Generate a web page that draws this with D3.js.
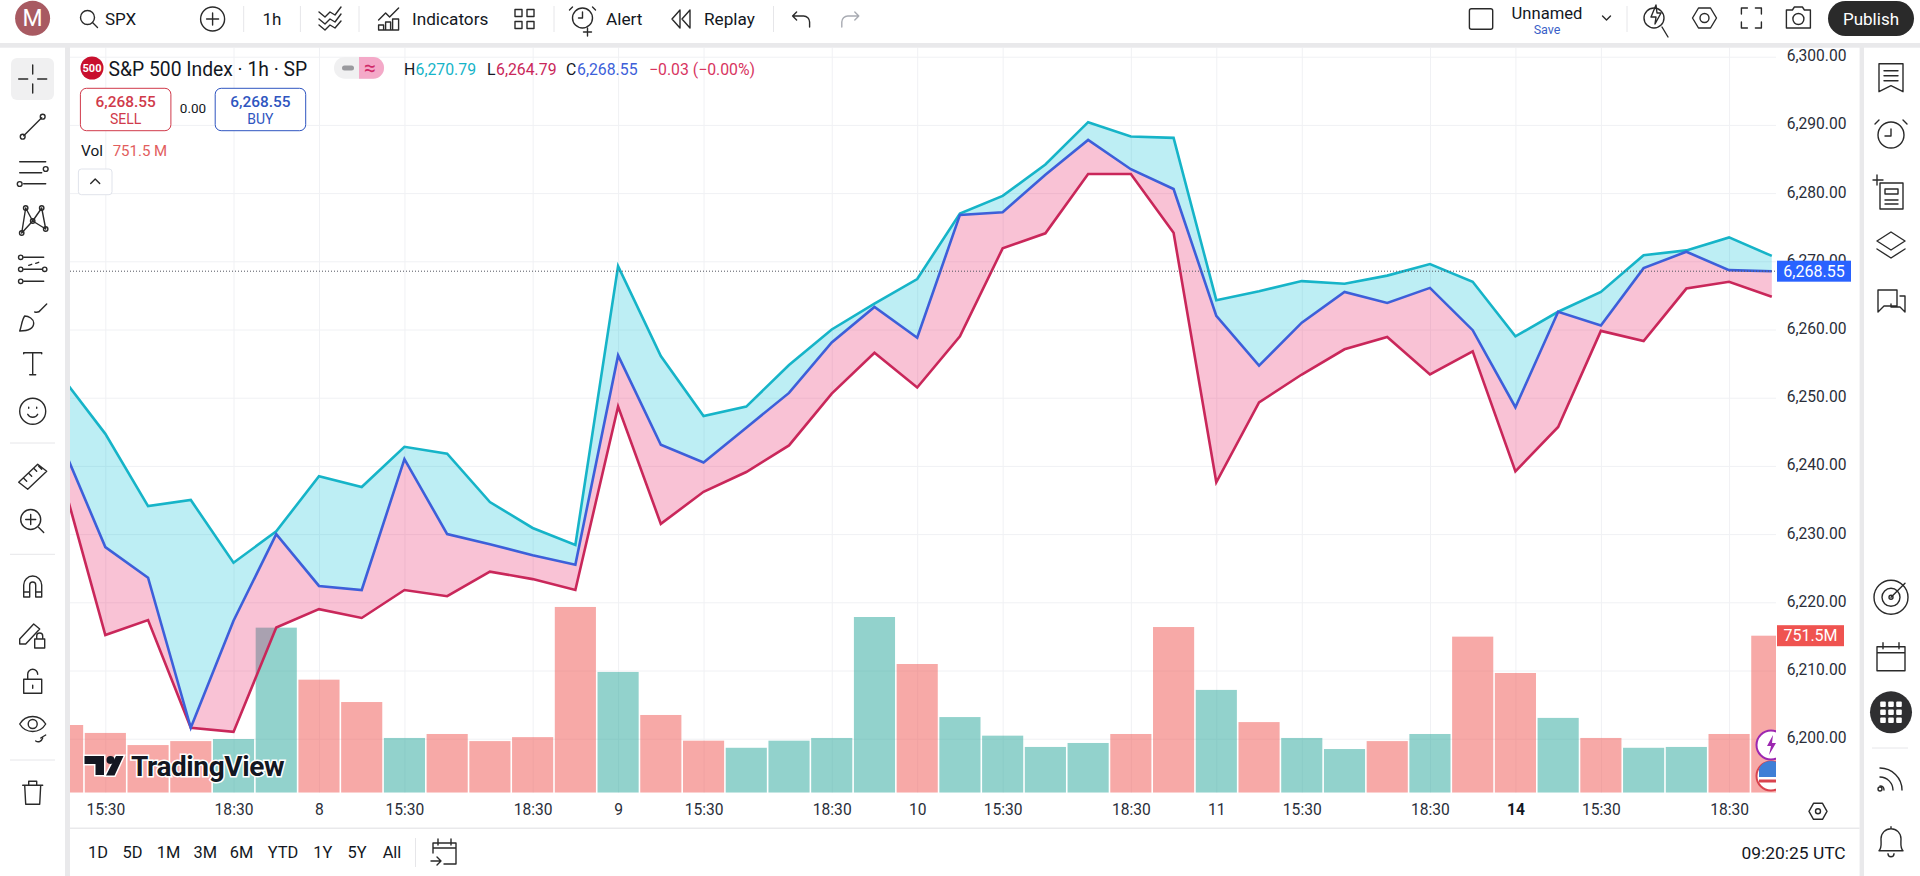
<!DOCTYPE html>
<html>
<head>
<meta charset="utf-8">
<title>SPX 1h</title>
<script src="https://cdn.jsdelivr.net/npm/d3@7"></script>
<style>
  html, body { margin: 0; padding: 0; background: #fff; overflow: hidden; }
  svg { display: block; font-family: Roboto, sans-serif; }
  text { fill: #131722; }
  .icon { fill: none; stroke: #2a2a2a; stroke-width: 1.4; stroke-linecap: round; stroke-linejoin: round; }
  .axis path, .axis line { display: none; }
  .axis text { font-size: 15.6px; font-family: Roboto, sans-serif; fill: #2a2e39; }
  .grid path { display: none; }
  .grid line { stroke: #f0f1f4; stroke-width: 1; }
</style>
</head>
<body>
<svg id="chart" width="1920" height="876"></svg>
<script>
// values
const high = [6252.9, 6244.7, 6234.1, 6235.0, 6225.8, 6230.4, 6238.5, 6236.9, 6242.8, 6241.8, 6234.7, 6230.9, 6228.4, 6269.3,
  6256.1, 6247.3, 6248.7, 6254.8, 6260.0, 6263.8, 6267.4, 6277.0, 6279.6, 6284.2, 6290.4, 6288.3, 6288.1, 6264.3,
  6265.6, 6267.1, 6266.7, 6267.9, 6269.6, 6267.0, 6259.0, 6262.6, 6265.5, 6270.9, 6271.6, 6273.5, 6270.79];
const low = [6237.9, 6215.2, 6217.4, 6201.6, 6201.0, 6216.3, 6219.0, 6217.7, 6221.8, 6220.9, 6224.5, 6223.4, 6221.8, 6248.7,
  6231.5, 6236.2, 6239.1, 6243.0, 6250.6, 6256.6, 6251.5, 6259.0, 6271.9, 6274.1, 6282.8, 6282.8, 6274.2, 6237.6,
  6249.3, 6253.4, 6257.1, 6258.9, 6253.4, 6256.8, 6239.2, 6245.7, 6259.8, 6258.3, 6266.0, 6267.0, 6264.79];
const closes = [6242.9, 6228.1, 6223.6, 6201.6, 6217.3, 6230.0, 6222.4, 6221.8, 6241.0, 6230.0, 6228.5, 6226.9, 6225.5, 6256.2,
  6243.1, 6240.5, 6245.6, 6250.7, 6258.1, 6263.3, 6258.8, 6276.8, 6277.2, 6282.7, 6287.8, 6283.5, 6280.6, 6262.0,
  6254.7, 6261.0, 6265.5, 6263.9, 6266.1, 6259.9, 6248.6, 6262.6, 6260.6, 6269.0, 6271.4, 6268.7, 6268.55];
const volume = [324, 286, 228, 247, 257, 790, 541, 434, 262, 281, 247, 266, 889, 578,
  372, 249, 215, 249, 262, 841, 616, 362, 273, 219, 238, 281, 793, 492,
  338, 262, 209, 247, 281, 747, 573, 358, 262, 215, 219, 281, 751.5];
const volumeUp = [0, 0, 0, 0, 1, 1, 0, 0, 1, 0, 0, 0, 0, 1,
  0, 0, 1, 1, 1, 1, 0, 1, 1, 1, 1, 0, 0, 1,
  0, 1, 1, 0, 1, 0, 0, 1, 0, 1, 1, 0, 0];
const timeIndex = [1, 4, 6, 8, 11, 13, 15, 18, 20, 22, 25, 27, 29, 32, 34, 36, 39];
const timeLabels = ['15:30', '18:30', '8', '15:30', '18:30', '9', '15:30', '18:30', '10', '15:30', '18:30', '11', '15:30', '18:30', '14', '15:30', '18:30'];
const priceTicks = [6200, 6210, 6220, 6230, 6240, 6250, 6260, 6270, 6280, 6290, 6300];
const ranges = ['1D', '5D', '1M', '3M', '6M', 'YTD', '1Y', '5Y', 'All'];
const rangeCenters = [98, 132.6, 168.6, 205.3, 241.6, 283, 322.9, 357, 392];
const lastPrice = 6268.55;
const lastVolume = 751.5;

const svg = d3.select('#chart');

// plot area
const plotLeft = 70, plotRight = 1776, plotTop = 47.7, plotBottom = 792.7;
const teal = '#16b4c8', crimson = '#c9275a', blue = '#3d5fd9';

// set up scaling
const x = d3.scaleLinear().domain([0, 40]).range([62.6, 1771.8]);
const y = d3.scaleLinear().domain([6200, 6300]).range([738.7, 56.7]);
const yVol = d3.scaleLinear().domain([0, lastVolume]).range([plotBottom, 635.7]);
const barW = x(1) - x(0) - 1.6;

svg.append('defs').append('clipPath').attr('id', 'plot')
  .append('rect').attr('x', plotLeft).attr('y', plotTop).attr('width', plotRight - plotLeft).attr('height', plotBottom - plotTop);

// grid
svg.append('g').attr('class', 'grid')
  .attr('transform', `translate(0,${plotBottom})`)
  .call(d3.axisBottom(x).tickValues(timeIndex).tickSize(-(plotBottom - plotTop)).tickFormat(''));
svg.append('g').attr('class', 'grid')
  .attr('transform', `translate(${plotLeft},0)`)
  .call(d3.axisRight(y).tickValues(priceTicks).tickSize(plotRight - plotLeft).tickFormat(''));

const plot = svg.append('g').attr('clip-path', 'url(#plot)');

// volume
plot.selectAll('.bar')
  .data(volume)
  .join('rect')
  .attr('class', 'bar')
  .attr('x', (d, i) => x(i) - barW / 2)
  .attr('y', d => yVol(d))
  .attr('width', barW)
  .attr('height', d => plotBottom - yVol(d))
  .attr('fill', (d, i) => volumeUp[i] ? '#26a69a' : '#ef5350')
  .attr('opacity', 0.5);

// high / close / low bands
const idx = d3.range(high.length);
const band = (a, b) => d3.area().x(i => x(i)).y0(i => y(a[i])).y1(i => y(b[i]));
plot.append('path').attr('d', band(closes, high)(idx)).attr('fill', '#00bcd4').attr('opacity', 0.26);
plot.append('path').attr('d', band(low, closes)(idx)).attr('fill', '#e91e63').attr('opacity', 0.27);

const line = s => d3.line().x(i => x(i)).y(i => y(s[i]))(idx);
[[high, teal], [low, crimson], [closes, blue]].forEach(([s, c]) => {
  plot.append('path').attr('d', line(s)).attr('fill', 'none').attr('stroke', c)
    .attr('stroke-width', 2.6).attr('stroke-linejoin', 'miter');
});

// last price line
svg.append('line').attr('x1', plotLeft).attr('x2', plotRight).attr('y1', y(lastPrice)).attr('y2', y(lastPrice))
  .attr('stroke', '#50535e').attr('stroke-width', 1).attr('stroke-dasharray', '1 2');

// events at the right edge of the plot
const ev = plot.append('g');
ev.append('circle').attr('cx', 1771).attr('cy', 745).attr('r', 14.5).attr('fill', '#fff').attr('stroke', '#9c27b0').attr('stroke-width', 2);
ev.append('path').attr('d', 'M1773 735l-6 11h4l-2 9 7-12h-4z').attr('fill', '#9c27b0');
ev.append('circle').attr('cx', 1771).attr('cy', 776).attr('r', 14.5).attr('fill', '#fff').attr('stroke', '#d9434e').attr('stroke-width', 2);
ev.append('path').attr('d', 'M1759 769a13 13 0 0 1 24 0v8h-24z').attr('fill', '#3f7fd6');
ev.append('path').attr('d', 'M1759 781h24').attr('stroke', '#d9434e').attr('stroke-width', 3);

// TradingView logo
const logo = svg.append('g');
logo.append('path')
  .attr('d', 'M84.5 756h19.5v19h-8.5v-11h-11z M116 756h7.5l-9 19.5h-8.5z')
  .attr('fill', '#131722').attr('stroke', '#fff').attr('stroke-width', 3).attr('paint-order', 'stroke');
logo.append('circle').attr('cx', 110.5).attr('cy', 760).attr('r', 4).attr('fill', '#131722');
logo.append('text').attr('x', 131).attr('y', 776).text('TradingView')
  .style('font-size', '28px').style('font-weight', 700).style('letter-spacing', '-0.4px')
  .style('stroke', '#fff').style('stroke-width', 3).style('paint-order', 'stroke');

// set axes
svg.append('g').attr('class', 'axis')
  .attr('transform', `translate(1846.5,-1)`)
  .call(d3.axisLeft(y).tickValues(priceTicks).tickSize(0).tickPadding(0).tickFormat(d3.format(',.2f')));
const xAxis = svg.append('g').attr('class', 'axis')
  .attr('transform', `translate(0,${plotBottom + 8})`)
  .call(d3.axisBottom(x).tickValues(timeIndex).tickSize(0).tickPadding(3).tickFormat((d, i) => timeLabels[i]));
xAxis.selectAll('text').filter(d => d === 34).style('font-weight', 700).style('fill', '#131722');

// axis tags
const tag = (yc, w, fill, txt) => {
  svg.append('rect').attr('x', 1777).attr('y', yc - 10.5).attr('width', w).attr('height', 21).attr('fill', fill);
  svg.append('text').attr('x', 1777 + w / 2).attr('y', yc + 5.6).attr('text-anchor', 'middle')
    .text(txt).style('font-size', '16px').style('fill', '#fff');
};
tag(y(lastPrice), 74, '#2962ff', d3.format(',.2f')(lastPrice));
tag(yVol(lastVolume), 67, '#ef5350', lastVolume + 'M');

// frame of the page
const frame = svg.append('g');
frame.append('rect').attr('x', 0).attr('y', 43).attr('width', 1920).attr('height', 4.7).attr('fill', '#e9e9eb');
frame.append('rect').attr('x', 65).attr('y', 47).attr('width', 5).attr('height', 829).attr('fill', '#e9e9eb');
frame.append('rect').attr('x', 1859.6).attr('y', 47).attr('width', 4.4).attr('height', 829).attr('fill', '#e9e9eb');
frame.append('line').attr('x1', 70).attr('x2', 1859.6).attr('y1', 828.3).attr('y2', 828.3).attr('stroke', '#e9e9eb').attr('stroke-width', 1.4);

const label = (px, py, txt, opts = {}) => svg.append('text')
  .attr('x', px).attr('y', py).attr('text-anchor', opts.anchor || 'start').attr('dominant-baseline', 'central')
  .text(txt)
  .style('font-size', (opts.size || 16) + 'px')
  .style('font-weight', opts.weight || 400)
  .style('fill', opts.fill || '#131722');
const icon = (cx, cy, d, opts = {}) => svg.append('path').attr('class', 'icon')
  .attr('transform', `translate(${cx},${cy})`).attr('d', d)
  .style('stroke', opts.stroke || null);
const ring = (cx, cy, r) => svg.append('circle').attr('class', 'icon').attr('cx', cx).attr('cy', cy).attr('r', r);
const sep = (x1, y1, x2, y2) => svg.append('line').attr('x1', x1).attr('y1', y1).attr('x2', x2).attr('y2', y2)
  .attr('stroke', '#e6e6e9').attr('stroke-width', 1);

// top bar
svg.append('circle').attr('cx', 32.6).attr('cy', 18.3).attr('r', 17.5).attr('fill', '#a85a62');
label(32.6, 18.5, 'M', { anchor: 'middle', size: 23, fill: '#fff' });
ring(87.5, 17.5, 7); icon(0, 0, 'M92.5 22.5l5 5');
label(105, 19, 'SPX', { size: 17 });
ring(212.6, 19, 12); icon(212.6, 19, 'M-6 0h12M0-6v12');
[243.7, 300.4, 359, 554, 773.5, 1627].forEach(sx => sep(sx, 6, sx, 32));
label(272, 19, '1h', { anchor: 'middle', size: 17 });
icon(330, 19, 'M-11-7l6 5 5-5 5 3 6-8M-11 0l6 5 5-5 5 3 6-8M-11 6l6 5 5-5 5 3 6-7');
icon(388.6, 18, 'M-10 2l7-7 4 4 9-9M-10 12h20M-10 12v-5h5v5M-3 12v-8h5v8M4 12v-11h6v11');
label(412, 19, 'Indicators', { size: 17.2 });
icon(524.5, 19, 'M-9.5-9.5h7v7h-7zM2.5-9.5h7v7h-7zM-9.5 2.5h7v7h-7zM2.5 2.5h7v7h-7z');
ring(582.5, 18, 10); icon(582.5, 18, 'M0-6v6h-4M-10-11l-3 3M10-11l3 3M5 10v8M1 14h8');
label(606, 19, 'Alert', { size: 17.2 });
icon(682, 19, 'M-2-9l-8 9 8 9zM8-9l-8 9 8 9z');
label(704, 19, 'Replay', { size: 17.2 });
icon(801.6, 19, 'M-5-7l-4 4 4 4M-9-3h11a6 6 0 0 1 6 6v5');
icon(849.8, 19, 'M5-7l4 4-4 4M9-3h-11a6 6 0 0 0-6 6v5', { stroke: '#a8abb2' });

svg.append('rect').attr('class', 'icon').attr('x', 1469.4).attr('y', 8.7).attr('width', 23.3).attr('height', 20.6).attr('rx', 2);
label(1547, 13, 'Unnamed', { anchor: 'middle', size: 16.6 });
label(1547, 29, 'Save', { anchor: 'middle', size: 12.5, fill: '#3a5fc8' });
icon(1606.5, 18, 'M-4-2l4 4 4-4');
ring(1654, 18, 10); icon(1654, 18, 'M8 9l6 10M2-13l-5 12h5l-1 7 6-11h-4z');
icon(1704.5, 18, 'M-12 0l6-10h12l6 10-6 10h-12z'); ring(1704.5, 18, 4.5);
icon(1751.4, 18, 'M-10-4v-6h6M4-10h6v6M10 4v6h-6M-4 10h-6v-6');
icon(1798.4, 18, 'M-12-8h6l2-3h8l2 3h6v18h-24z'); ring(1798.4, 19, 5.5);
svg.append('rect').attr('x', 1828).attr('y', 1).attr('width', 86).attr('height', 35).attr('rx', 17.5).attr('fill', '#2a2a2a');
label(1871, 19, 'Publish', { anchor: 'middle', size: 17, fill: '#fff' });

// left toolbar
svg.append('rect').attr('x', 11).attr('y', 58).attr('width', 43).attr('height', 42).attr('rx', 6).attr('fill', '#f0f0f1');
const lx = 32.7;
icon(lx, 79, 'M0-14v9M0 5v9M-14 0h9M5 0h9');
icon(lx, 126.7, 'M-9 9l18-18'); ring(lx - 10, 136.7, 2.4); ring(lx + 10, 116.7, 2.4);
icon(lx, 172.7, 'M-13-11h26M-13 0h22M-9 11h22');
ring(lx + 13, 169, 2.4); ring(lx - 13, 184, 2.4);
icon(lx, 221, 'M-7-13l7 13-11 12M9-13l-9 13 13 8M-7-13l-4 25M9-13l4 21');
[[-7, -13], [9, -13], [-11, 12], [13, 8], [0, 0]].forEach(p => ring(lx + p[0], 221 + p[1], 2.2));
icon(lx, 269.3, 'M-9-12h20M-9 0h18M-9 12h20');
icon(lx, 269.3, 'M-4-4l3-1M3-6l3-1');
[[-12, -12], [-12, 0], [-12, 12], [12, 0]].forEach(p => ring(lx + p[0], 269.3 + p[1], 2.2));
icon(lx, 318, 'M-13 13c8 0 14-2 14-8 0-4-5-7-9-7-3 4-3 10-5 15zM2-6c4 1 6-2 6-2l6-6');
icon(lx, 363.7, 'M-9-10v-1h18v1M0-11v22M-3 11h6');
ring(lx, 411.3, 13); icon(lx, 411.3, 'M-5 3c2 4 8 4 10 0M-4-3v-1M4-3v-1');
sep(10, 443, 55, 443);
icon(lx, 475.3, 'M-14 7l19-18 9 7-19 18zM-9 3l3 3M-4-2l3 3M1-7l3 3M6-9l3 3');
ring(lx - 2, 519.5, 10); icon(lx - 2, 519.5, 'M-5 0h10M0-5v10M8 8l5 5');
sep(10, 554.3, 55, 554.3);
icon(lx, 585, 'M-9 12v-12a9 9 0 0 1 18 0v12h-6v-12a3 3 0 0 0-6 0v12zM-9 7h6M3 7h6');
icon(lx, 634, 'M-13 5l14-15 6 5-14 15h-6zM2 5h10v9h-10zM4 5v-3a3 3 0 0 1 6 0v3');
icon(lx, 682.3, 'M-9-3h18v14h-18zM-5-3v-5a5 5 0 0 1 10 0M0 3v3');
icon(lx, 727, 'M-13-3c6-10 20-10 26 0-6 10-20 10-26 0z'); ring(lx, 724, 4.5);
icon(lx, 727, 'M3 14c3 2 6 0 7-3M8 11l5-3');
sep(10, 760, 55, 760);
icon(lx, 792.3, 'M-10-7h20M-4-7v-4h8v4M-8-7l1 19h14l1-19');

// right toolbar
const rx = 1891;
icon(rx, 77.7, 'M-12-14h24v28l-12-6-12 6zM-7-7h14M-7-2h14M-7 3h14');
ring(rx, 135, 13); icon(rx, 135, 'M0-6v7h-6M-12-15l-4 4M12-15l4 4');
icon(rx, 192, 'M-11-9h23v26h-23zM-6-3h13v5h-13zM-6 8h13M-6 12h13M-14-17v10M-18-12h10');
icon(rx, 245, 'M0-13l14 9-14 9-14-9zM-14 4l14 9 14-9');
icon(rx, 302, 'M-13-12h19v16h-13l-6 6zM9-6h5v16l-5-5h-9v-3');
ring(rx, 597.3, 17); ring(rx, 597.3, 9); ring(rx, 597.3, 2); icon(rx, 597.3, 'M0 0l14-14');
icon(rx, 655.7, 'M-14-9h28v24h-28zM-14-3h28M-8-13v6M8-13v6');
svg.append('circle').attr('cx', rx).attr('cy', 712.3).attr('r', 21).attr('fill', '#2f2f31');
d3.cross([-8, 0, 8], [-8, 0, 8]).forEach(p => {
  svg.append('rect').attr('x', rx + p[0] - 2.8).attr('y', 712.3 + p[1] - 2.8).attr('width', 5.6).attr('height', 5.6).attr('rx', 1).attr('fill', '#fff');
});
sep(1872, 748, 1908, 748);
icon(rx, 782, 'M-11-14c12 0 22 10 22 22M-11-5c7 0 13 6 13 13M-11 4c3 0 4 1 4 4'); ring(rx - 11, 789, 2);
icon(rx, 840.7, 'M-12 10c3-3 2-7 2-12a10 10 0 0 1 20 0c0 5-1 9 2 12zM-3 13a3 3 0 0 0 6 0M0-14v2');

// legend
svg.append('circle').attr('cx', 92).attr('cy', 68).attr('r', 11.5).attr('fill', '#c8102e');
label(92, 68.5, '500', { anchor: 'middle', size: 11, weight: 700, fill: '#fff' });
label(108.6, 69, 'S&P 500 Index · 1h · SP', { size: 19.3 });
svg.append('rect').attr('x', 334).attr('y', 57).attr('width', 50).attr('height', 21.7).attr('rx', 10.8).attr('fill', '#f0f0f1');
svg.append('path').attr('d', 'M359 57h14.2a10.8 10.8 0 0 1 0 21.7h-14.2z').attr('fill', '#f4a9c8');
svg.append('rect').attr('x', 342).attr('y', 65.5).attr('width', 12).attr('height', 5).attr('rx', 2.5).attr('fill', '#9a9a9e');
label(370, 67.5, '≈', { anchor: 'middle', size: 21, fill: '#d02a68' });
label(404, 69, 'H', { size: 15.8 });
label(415.5, 69, '6,270.79', { size: 15.8, fill: teal });
label(487, 69, 'L', { size: 15.8 });
label(496, 69, '6,264.79', { size: 15.8, fill: crimson });
label(566, 69, 'C', { size: 15.8 });
label(577, 69, '6,268.55', { size: 15.8, fill: blue });
label(649, 69, '−0.03 (−0.00%)', { size: 15.8, fill: '#d8355f' });

const box = (bx, c) => svg.append('rect').attr('x', bx).attr('y', 88.3).attr('width', 90.5).attr('height', 42.4).attr('rx', 6)
  .attr('fill', '#fff').attr('stroke', c).attr('stroke-width', 1);
box(80.4, '#d03a4a'); box(215.2, '#2f55c0');
label(125.6, 102, '6,268.55', { anchor: 'middle', size: 15.4, weight: 500, fill: '#d03a4a' });
label(125.6, 119, 'SELL', { anchor: 'middle', size: 14, fill: '#d03a4a' });
label(193, 108.3, '0.00', { anchor: 'middle', size: 13.5 });
label(260.4, 102, '6,268.55', { anchor: 'middle', size: 15.4, weight: 500, fill: '#2f55c0' });
label(260.4, 119, 'BUY', { anchor: 'middle', size: 14, fill: '#2f55c0' });
label(81, 150.7, 'Vol', { size: 15.4 });
label(112.7, 150.7, '751.5 M', { size: 15, fill: '#e25d5d' });
svg.append('rect').attr('x', 78.4).attr('y', 169).attr('width', 33.6).attr('height', 25.7).attr('rx', 3)
  .attr('fill', '#fff').attr('stroke', '#e0e3eb');
icon(95.2, 181.5, 'M-4.5 2l4.5-4.5 4.5 4.5');

// bottom bar
ranges.forEach((r, i) => label(rangeCenters[i], 852.7, r, { anchor: 'middle', size: 16.4 }));
sep(415.5, 838, 415.5, 867);
icon(444, 852, 'M-11-9h23v21h-12M-11-9v10M-11-4h23M-6-13v6M7-13v6M-13 9h10M-7 5l4 4-4 4');
label(1845.7, 852.7, '09:20:25 UTC', { anchor: 'end', size: 17.4 });
icon(1818, 811.3, 'M-9 0l4.5-8h9l4.5 8-4.5 8h-9z'); ring(1818, 811.3, 2.5);
</script>
</body>
</html>
